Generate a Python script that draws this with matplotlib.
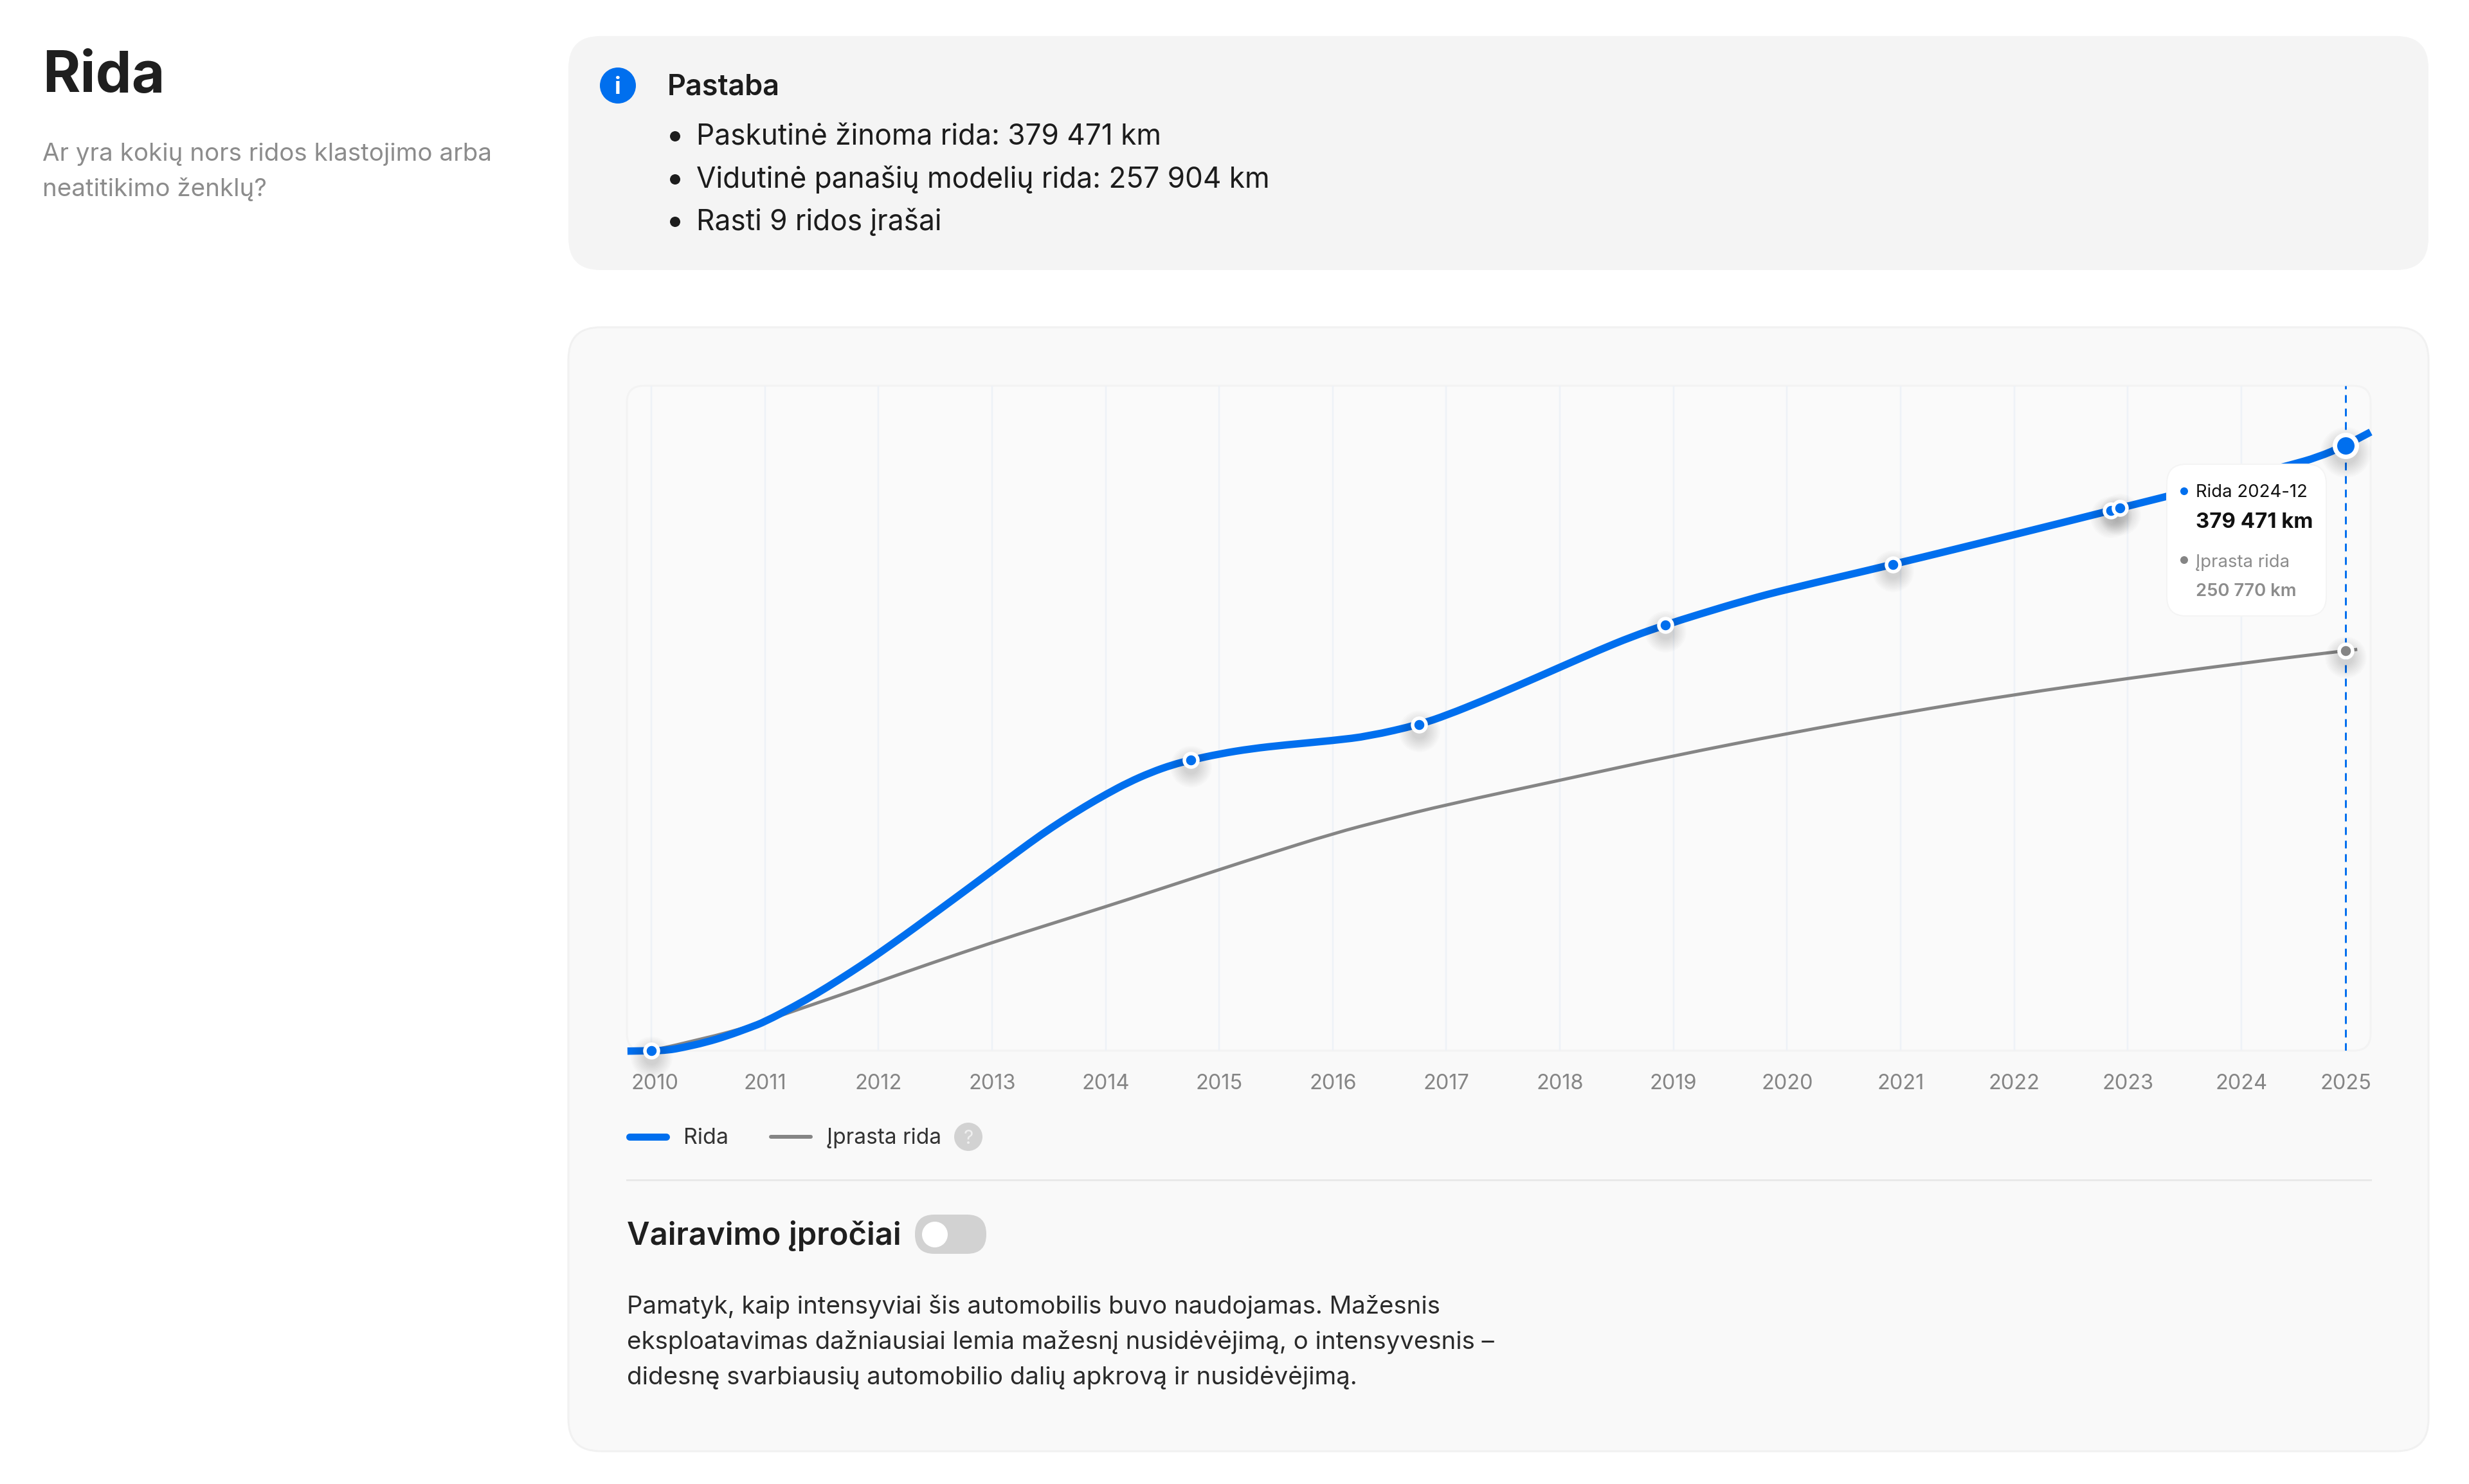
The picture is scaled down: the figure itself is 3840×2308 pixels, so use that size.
import matplotlib
matplotlib.use('Agg')
import matplotlib.pyplot as plt
from matplotlib.patches import FancyBboxPatch, Circle, PathPatch
from matplotlib.path import Path
from matplotlib.transforms import offset_copy

plt.rcParams['font.family'] = ['Inter', 'DejaVu Sans']
plt.rcParams['lines.scale_dashes'] = False

# === data ===
rida_years = [2009.79, 2010.00, 2010.15, 2010.28, 2010.48, 2010.67, 2010.87, 2011.00, 2011.26, 2011.46,
              2011.65, 2011.85, 2012.01, 2012.24, 2012.43, 2012.65, 2012.84, 2013.01, 2013.23, 2013.43,
              2013.62, 2013.82, 2014.01, 2014.20, 2014.40, 2014.59, 2014.75, 2015.01, 2015.28, 2015.58,
              2016.01, 2016.32, 2016.76, 2017.01, 2017.33, 2017.61, 2018.01, 2018.34, 2018.63, 2018.93,
              2019.21, 2019.64, 2020.01, 2020.93, 2022.01, 2022.85, 2022.93, 2023.34, 2024.02, 2024.43,
              2024.67, 2024.917, 2025.138]
rida_km = [-300, -100, 300, 2000, 5200, 9300, 14500, 18100, 27800, 35900,
           44300, 53500, 61300, 72900, 82800, 94300, 104300, 113300, 124900, 135300,
           144300, 153200, 161000, 168200, 174500, 179300, 182200, 186200, 189300, 191700,
           194500, 197200, 204400, 210500, 219700, 228200, 240700, 251000, 259500, 267000,
           273300, 282500, 289500, 304800, 323700, 338700, 340200, 347500, 359600, 367200,
           372000, 379471, 387900]

iprasta_years = [2010.00, 2010.48, 2010.87, 2011.00, 2011.26, 2011.65, 2012.01, 2012.43, 2013.01, 2013.43,
                 2014.01, 2014.40, 2015.01, 2015.38, 2016.01, 2016.46, 2017.01, 2018.01, 2019.01, 2020.01,
                 2021.01, 2022.01, 2023.01, 2024.02, 2024.917, 2025.02]
iprasta_km = [0, 7700, 15300, 18500, 25000, 34500, 43500, 54000, 68000, 77500,
              90500, 99500, 113700, 122200, 136300, 144700, 154400, 169700, 185100, 199000,
              211700, 223400, 233500, 243100, 250770, 251600]

# ridos irasai (markers)
record_years = [2010.00, 2014.75, 2016.76, 2018.93, 2020.93, 2022.85, 2022.93]
record_km = [0, 182200, 204400, 267000, 304800, 338700, 340200]
last_year = 2024.917
last_rida = 379471
last_iprasta = 250770

grid_years = list(range(2010, 2025))
tick_years = [2010.03] + list(range(2011, 2025)) + [2024.917]
tick_labels = [str(y) for y in range(2010, 2026)]

BLUE = '#006FEE'
GREY = '#858585'
TXT = '#1C1C1C'
MUTED = '#8C8C8C'
PX = 72 / 100  # css-ish pixels to points at dpi 100

fig = plt.figure(figsize=(38.4, 23.08), dpi=100, facecolor='white')

# === page layer in pixel coordinates ===
bg = fig.add_axes([0, 0, 1, 1], zorder=0)
bg.set_xlim(0, 3840)
bg.set_ylim(2308, 0)
bg.axis('off')


def card(a, x0, y0, x1, y1, r, fc, ec='none', lw=0, z=1):
    p = FancyBboxPatch((x0, y0), x1 - x0, y1 - y0, boxstyle=f'round,pad=0,rounding_size={r}',
                       facecolor=fc, edgecolor=ec, linewidth=lw * PX, zorder=z)
    a.add_patch(p)


def label(a, x, y, s, size, color=TXT, weight='normal', ha='left', z=5):
    a.text(x, y, s, fontsize=size * PX, color=color, fontweight=weight, ha=ha, va='baseline', zorder=z)


label(bg, 66, 143, 'Rida', 89, '#1F1F1F', 'bold')
label(bg, 66, 250, 'Ar yra kokių nors ridos klastojimo arba', 38.5, MUTED)
label(bg, 66, 305, 'neatitikimo ženklų?', 38.5, MUTED)

# pastaba
card(bg, 884, 56, 3777, 420, 50, '#F4F4F4')
bg.add_patch(Circle((961, 133), 28, fc=BLUE, ec='none', zorder=3))
label(bg, 961, 146, 'i', 36, 'white', 'bold', ha='center')
label(bg, 1038, 147, 'Pastaba', 45, TXT, 'semibold')
notes = ['Paskutinė žinoma rida: 379 471 km', 'Vidutinė panašių modelių rida: 257 904 km', 'Rasti 9 ridos įrašai']
for s, y in zip(notes, [225, 292, 358]):
    bg.add_patch(Circle((1050, y - 13), 8, fc=TXT, ec='none', zorder=3))
    label(bg, 1083, y, s, 44.2)

# chart card
card(bg, 884, 509, 3777, 2257, 50, '#F9F9F9', '#F1F1F1', 3)
card(bg, 975, 600, 3687, 1634, 26, '#FAFAFA', '#F3F3F3', 3, z=2)

# legend
bg.plot([979, 1036], [1768, 1768], color=BLUE, lw=11 * PX, solid_capstyle='round', zorder=3)
label(bg, 1063, 1779, 'Rida', 34, '#333333')
bg.plot([1199, 1261], [1768, 1768], color=GREY, lw=6 * PX, solid_capstyle='round', zorder=3)
label(bg, 1286, 1779, 'Įprasta rida', 33.5, '#333333')
bg.add_patch(Circle((1506, 1768), 22, fc='#D2D2D2', ec='none', zorder=3))
label(bg, 1506, 1779, '?', 30, '#EFEFEF', ha='center')

bg.plot([975, 3687], [1835, 1835], color='#E9E9E9', lw=3 * PX, zorder=3)

# vairavimo iprociai
label(bg, 975, 1936, 'Vairavimo įpročiai', 49, '#1F1F1F', 'semibold')
card(bg, 1423, 1889, 1534, 1950, 30, '#D2D2D2', z=3)
bg.add_patch(Circle((1454, 1920), 20, fc='white', ec='none', zorder=4))
paragraph = ['Pamatyk, kaip intensyviai šis automobilis buvo naudojamas. Mažesnis',
             'eksploatavimas dažniausiai lemia mažesnį nusidėvėjimą, o intensyvesnis –',
             'didesnę svarbiausių automobilio dalių apkrovą ir nusidėvėjimą.']
for s, y in zip(paragraph, [2043, 2098, 2153]):
    label(bg, 975, y, s, 38.4, '#2A2A2A')

# === chart ===
ax = fig.add_axes([975.5 / 3840, 1 - 1634 / 2308, (3687 - 975.5) / 3840, (1634 - 600) / 2308], zorder=1)
ax.patch.set_alpha(0)
ax.set_xlim(2009.788, 2025.138)
ax.set_ylim(0, 416900)
for s in ax.spines.values():
    s.set_visible(False)
ax.set_yticks([])
ax.set_xticks(tick_years)
ax.set_xticklabels(tick_labels, fontsize=32.5 * PX, color=GREY)
ax.tick_params(axis='x', length=0, pad=36 * PX)

ax.vlines(grid_years, 0, 416900, color='#EEF2F7', lw=2.5 * PX, zorder=1)
ax.plot([last_year, last_year], [0, 416900], color=BLUE, lw=3 * PX, linestyle=(0, (12 * PX, 9 * PX)),
        dash_capstyle='butt', zorder=2)


# smooth line: the read points act as curve controls, like the monotone line of the original
def smooth_line(xs, ys, color, width, z):
    verts = [(xs[0], ys[0])]
    codes = [Path.MOVETO]
    for i in range(1, len(xs) - 1):
        end = (xs[i + 1], ys[i + 1]) if i == len(xs) - 2 else ((xs[i] + xs[i + 1]) / 2, (ys[i] + ys[i + 1]) / 2)
        verts += [(xs[i], ys[i]), end]
        codes += [Path.CURVE3, Path.CURVE3]
    ax.add_patch(PathPatch(Path(verts, codes), fc='none', ec=color, lw=width * PX, capstyle='butt',
                           joinstyle='round', clip_on=False, zorder=z))


smooth_line(iprasta_years, iprasta_km, GREY, 5, 3)
smooth_line(rida_years, rida_km, BLUE, 11.5, 4)


# soft shadow under the points
def shadow(xs, ys, base, z):
    tr = offset_copy(ax.transData, fig=fig, x=0, y=-10, units='dots')
    for k in range(10):
        ax.plot(xs, ys, ls='none', marker='o', ms=(base + 4.5 * k) * PX, mfc='#000000', mec='none',
                alpha=0.014, transform=tr, clip_on=False, zorder=z)


shadow(record_years, record_km, 24, 5)
shadow([last_year], [last_rida], 38, 5)
shadow([last_year], [last_iprasta], 24, 5)
ax.plot(record_years, record_km, ls='none', marker='o', ms=21 * PX, mfc=BLUE, mec='white', mew=5.5 * PX,
        clip_on=False, zorder=6)
ax.plot([last_year], [last_iprasta], ls='none', marker='o', ms=21 * PX, mfc=GREY, mec='white', mew=5.5 * PX,
        clip_on=False, zorder=6)
ax.plot([last_year], [last_rida], ls='none', marker='o', ms=34 * PX, mfc=BLUE, mec='white', mew=7 * PX,
        clip_on=False, zorder=6)

# === tooltip on top ===
top = fig.add_axes([0, 0, 1, 1], zorder=2)
top.set_xlim(0, 3840)
top.set_ylim(2308, 0)
top.axis('off')
top.patch.set_alpha(0)
card(top, 3370, 722, 3618, 958, 30, 'white', '#F4F4F4', 2)
top.add_patch(Circle((3397, 764), 6, fc=BLUE, ec='none', zorder=3))
label(top, 3415, 773, 'Rida 2024-12', 27.5, '#111111')
label(top, 3415, 821, '379 471 km', 33, '#111111', 'bold')
top.add_patch(Circle((3397, 871), 6, fc=GREY, ec='none', zorder=3))
label(top, 3415, 882, 'Įprasta rida', 27.5, MUTED)
label(top, 3415, 927, '250 770 km', 27.5, MUTED, 'semibold')

fig.savefig('out.png', dpi=100, facecolor='white')
plt.close()
